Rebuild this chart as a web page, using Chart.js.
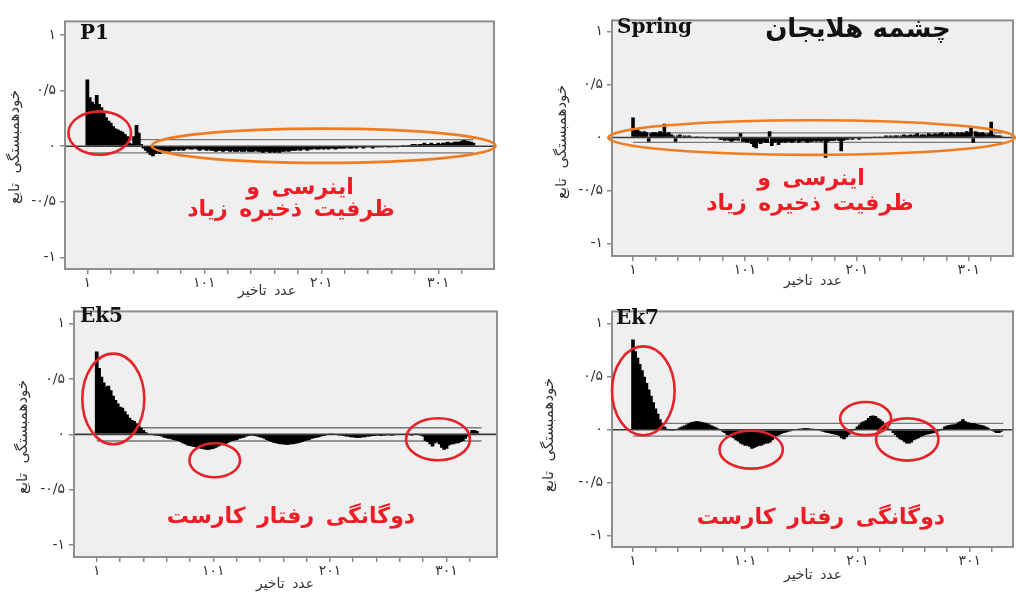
<!DOCTYPE html>
<html><head><meta charset="utf-8">
<script src="https://cdn.jsdelivr.net/npm/chart.js@4"></script>
<style>
html,body{margin:0;padding:0;width:1016px;height:592px;overflow:hidden;background:#fff}
body{position:relative;font-family:"DejaVu Sans",sans-serif}
canvas{position:absolute}
.t{position:absolute;white-space:nowrap;transform:translate(-50%,-50%);line-height:1}
.lbl{position:absolute;white-space:nowrap;font-family:"DejaVu Serif",serif;font-weight:bold;font-size:20px;color:#111;line-height:1;transform:translateY(-50%)}
.red{color:#ee1d25;font-weight:bold;font-size:22px;word-spacing:4px;direction:rtl}
.ytl{font-size:15px;word-spacing:5px;color:#333;transform:translate(-50%,-50%) rotate(-90deg);direction:ltr}
.ytl span{unicode-bidi:isolate}
.xtl{font-size:14px;color:#333;direction:rtl;word-spacing:3px}
.head{font-weight:bold;font-size:26px;color:#111;direction:rtl}
</style></head><body>
<canvas id="c1"></canvas><canvas id="c2"></canvas><canvas id="c3"></canvas><canvas id="c4"></canvas>

<div class="lbl" style="left:80px;top:32px">P1</div>
<div class="t red" style="left:300px;top:187px">اینرسی و</div>
<div class="t red" style="left:291px;top:209px">ظرفیت ذخیره زیاد</div>
<div class="t ytl" style="left:14px;top:147px"><span>تابع</span> <span>خودهمبستگی</span></div>
<div class="t xtl" style="left:267px;top:290px">عدد تاخیر</div>

<div class="lbl" style="left:617px;top:26px">Spring</div>
<div class="t head" style="left:858px;top:28px">چشمه هلایجان</div>
<div class="t red" style="left:811px;top:178px">اینرسی و</div>
<div class="t red" style="left:810px;top:203px">ظرفیت ذخیره زیاد</div>
<div class="t ytl" style="left:561px;top:142px"><span>تابع</span> <span>خودهمبستگی</span></div>
<div class="t xtl" style="left:813px;top:280px">عدد تاخیر</div>

<div class="lbl" style="left:80px;top:315px">Ek5</div>
<div class="t red" style="left:291px;top:516px">دوگانگی رفتار کارست</div>
<div class="t ytl" style="left:22px;top:437px"><span>تابع</span> <span>خودهمبستگی</span></div>
<div class="t xtl" style="left:285px;top:583px">عدد تاخیر</div>

<div class="lbl" style="left:616px;top:317px">Ek7</div>
<div class="t red" style="left:821px;top:517px">دوگانگی رفتار کارست</div>
<div class="t ytl" style="left:548px;top:435px"><span>تابع</span> <span>خودهمبستگی</span></div>
<div class="t xtl" style="left:813px;top:574px">عدد تاخیر</div>

<script>
// ---- data: autocorrelation values at lags 1,3,5,...,331 ----
const firstLag = 1;
const lagStep = 2;
const xTickLags = [1,21,41,61,81,101,121,141,161,181,201,221,241,261,281,301,321];
const xTickLabels = {1:'۱',101:'۱۰۱',201:'۲۰۱',301:'۳۰۱'};
const yTickValues = [1,0.5,0,-0.5,-1];
const yTickLabels = ['۱','۰/۵','۰','-۰/۵','-۱'];

const acfP1 = [
 0.60,0.44,0.40,0.38,0.46,0.38,0.35,0.30,0.26,0.23,
 0.21,0.18,0.16,0.15,0.14,0.13,0.11,0.09,0.03,0.02,
 0.09,0.19,0.12,0.02,-0.02,-0.04,-0.06,-0.08,-0.09,-0.07,
 -0.06,-0.07,-0.05,-0.06,-0.04,-0.05,-0.04,-0.04,-0.03,-0.04,
 -0.03,-0.04,-0.03,-0.02,-0.03,-0.03,-0.02,-0.03,-0.04,-0.03,
 -0.03,-0.04,-0.03,-0.04,-0.04,-0.05,-0.04,-0.04,-0.05,-0.04,
 -0.04,-0.05,-0.04,-0.05,-0.05,-0.04,-0.05,-0.05,-0.04,-0.05,
 -0.05,-0.05,-0.04,-0.05,-0.05,-0.06,-0.05,-0.05,-0.06,-0.05,
 -0.06,-0.05,-0.06,-0.05,-0.05,-0.04,-0.05,-0.04,-0.04,-0.04,
 -0.03,-0.04,-0.03,-0.03,-0.04,-0.03,-0.03,-0.02,-0.03,-0.03,
 -0.02,-0.03,-0.02,-0.03,-0.02,-0.02,-0.03,-0.02,-0.02,-0.02,
 -0.02,-0.01,-0.02,-0.02,-0.01,-0.02,-0.01,-0.01,-0.02,-0.01,
 -0.01,-0.01,-0.02,-0.01,-0.01,-0.01,-0.01,0.00,-0.01,-0.01,
 -0.01,0.00,-0.01,0.00,0.00,0.01,0.00,0.01,0.01,0.02,
 0.02,0.01,0.02,0.02,0.03,0.02,0.02,0.03,0.02,0.02,
 0.03,0.02,0.03,0.03,0.04,0.03,0.03,0.04,0.04,0.04,
 0.05,0.055,0.05,0.045,0.04,0.03
];
const acfSpring = [
 0.19,0.09,0.08,0.06,0.05,0.06,0.05,-0.04,0.04,0.05,
 0.05,0.04,0.06,0.05,0.13,0.04,0.05,0.03,0.02,-0.04,
 0.02,0.03,0.01,0.02,0.01,0.02,0.01,0.00,0.01,0.01,
 0.00,0.01,0.00,-0.01,0.00,0.00,-0.01,0.00,-0.01,-0.02,
 -0.02,-0.03,-0.02,-0.03,-0.04,-0.03,-0.02,-0.03,0.04,-0.04,
 -0.04,-0.05,-0.04,-0.06,-0.09,-0.10,-0.05,-0.06,-0.04,-0.05,
 -0.05,0.06,-0.08,-0.05,-0.04,-0.07,-0.05,-0.04,-0.05,-0.04,
 -0.04,-0.05,-0.04,-0.03,-0.05,-0.04,-0.03,-0.04,-0.05,-0.04,
 -0.04,-0.03,-0.04,-0.03,-0.04,-0.03,-0.19,-0.04,-0.03,-0.03,
 -0.03,-0.02,-0.03,-0.13,-0.03,-0.02,-0.02,-0.01,-0.02,-0.01,
 -0.01,-0.02,-0.01,0.00,-0.01,0.00,-0.01,0.00,0.01,0.00,
 0.01,0.00,0.01,0.02,0.01,0.02,0.01,0.02,0.02,0.01,
 0.02,0.03,0.02,0.02,0.03,0.02,0.03,0.04,0.02,0.03,
 0.03,0.02,0.04,0.03,0.03,0.04,0.03,0.04,0.05,0.03,
 0.04,0.03,0.05,0.04,0.03,0.05,0.04,0.05,0.04,0.06,
 0.05,0.10,-0.05,0.06,0.05,0.04,0.05,0.04,0.03,0.04,
 0.15,0.03,0.02,0.02,0.02,0.01
];
const acfEk5 = [
 0.75,0.60,0.52,0.47,0.43,0.44,0.40,0.35,0.31,0.28,
 0.25,0.24,0.21,0.18,0.15,0.13,0.12,0.10,0.08,0.06,
 0.04,0.02,0.01,0.00,-0.005,-0.01,-0.01,-0.015,-0.02,-0.03,
 -0.035,-0.04,-0.045,-0.05,-0.055,-0.06,-0.07,-0.08,-0.09,-0.10,
 -0.105,-0.11,-0.115,-0.12,-0.125,-0.13,-0.135,-0.14,-0.14,-0.135,
 -0.13,-0.12,-0.11,-0.10,-0.095,-0.09,-0.08,-0.07,-0.06,-0.055,
 -0.05,-0.04,-0.035,-0.03,-0.02,-0.015,-0.01,-0.01,-0.015,-0.02,
 -0.025,-0.03,-0.04,-0.05,-0.06,-0.07,-0.075,-0.08,-0.085,-0.09,
 -0.09,-0.095,-0.095,-0.09,-0.09,-0.085,-0.08,-0.075,-0.07,-0.06,
 -0.055,-0.05,-0.04,-0.035,-0.03,-0.025,-0.02,-0.015,-0.01,0.00,
 0.01,0.005,0.00,-0.005,-0.01,-0.01,-0.015,-0.02,-0.02,-0.025,
 -0.025,-0.03,-0.03,-0.03,-0.025,-0.025,-0.02,-0.02,-0.015,-0.015,
 -0.01,-0.01,-0.015,-0.01,-0.01,-0.005,-0.01,-0.01,-0.005,0.00,
 0.00,-0.005,0.00,0.005,0.00,-0.01,0.00,0.01,-0.005,-0.01,
 -0.02,-0.06,-0.07,-0.09,-0.11,-0.08,-0.07,-0.09,-0.12,-0.14,
 -0.13,-0.10,-0.09,-0.09,-0.08,-0.08,-0.07,-0.06,-0.04,-0.02,
 0.01,0.04,0.04,0.03,0.01,0.00
];
const acfEk7 = [
 0.85,0.74,0.68,0.62,0.56,0.50,0.44,0.38,0.32,0.26,
 0.20,0.15,0.10,0.06,0.03,0.01,-0.01,-0.01,-0.005,0.00,
 0.01,0.02,0.03,0.04,0.05,0.06,0.07,0.075,0.08,0.08,
 0.075,0.07,0.065,0.06,0.05,0.04,0.03,0.02,0.01,0.00,
 -0.02,-0.03,-0.05,-0.06,-0.07,-0.08,-0.10,-0.11,-0.13,-0.14,
 -0.15,-0.15,-0.16,-0.18,-0.17,-0.16,-0.15,-0.15,-0.14,-0.13,
 -0.13,-0.12,-0.10,-0.08,-0.06,-0.05,-0.04,-0.03,-0.025,-0.02,
 -0.015,-0.01,0.00,0.005,0.01,0.01,0.015,0.015,0.015,0.01,
 0.01,0.005,0.00,-0.01,-0.015,-0.02,-0.025,-0.03,-0.035,-0.04,
 -0.045,-0.05,-0.06,-0.08,-0.09,-0.07,-0.05,-0.03,-0.01,0.01,
 0.03,0.05,0.07,0.08,0.09,0.11,0.13,0.135,0.13,0.11,
 0.10,0.08,0.06,0.03,0.01,-0.01,-0.03,-0.05,-0.07,-0.09,
 -0.10,-0.115,-0.13,-0.13,-0.12,-0.10,-0.09,-0.08,-0.07,-0.06,
 -0.05,-0.045,-0.04,-0.035,-0.03,-0.02,-0.015,-0.005,0.01,0.03,
 0.04,0.045,0.05,0.05,0.055,0.07,0.08,0.10,0.08,0.07,
 0.065,0.06,0.06,0.055,0.05,0.045,0.04,0.03,0.02,0.005,
 -0.01,-0.02,-0.03,-0.03,-0.02,-0.01
];
// confidence bounds (±)
const bandP1 = 0.06, bandSpring = 0.045, bandEk5 = 0.06, bandEk7 = 0.06;

// annotation ellipses in data units (lag, value)
const RED = '#e4232a', ORANGE = '#f07c22';
const ellP1 = [
 {lag:11.6, val:0.118, rLag:26.8, rVal:0.195, color:RED},
 {lag:203, val:0.004, rLag:147, rVal:0.154, color:ORANGE}
];
const ellSpring = [{lag:160.6, val:0.0, rLag:181.7, rVal:0.164, color:ORANGE}];
const ellEk5 = [
 {lag:15.2, val:0.32, rLag:26.6, rVal:0.41, color:RED},
 {lag:102.2, val:-0.234, rLag:21.7, rVal:0.154, color:RED},
 {lag:293.7, val:-0.044, rLag:27.4, rVal:0.19, color:RED}
];
const ellEk7 = [
 {lag:10.2, val:0.367, rLag:27.9, rVal:0.419, color:RED},
 {lag:106.3, val:-0.188, rLag:28.2, rVal:0.179, color:RED},
 {lag:208.3, val:0.105, rLag:22.7, rVal:0.156, color:RED},
 {lag:245.4, val:-0.092, rLag:27.8, rVal:0.199, color:RED}
];

// ---- layout ----
const YW = 66, PT = 6, PR = 3, XH = 30;
const panels = [
 {id:'c1', box:[65,15,494,269], x:[-18.1,348.6], y:[-1.105,1.123], data:acfP1, band:bandP1, ell:ellP1},
 {id:'c2', box:[612,14,1013,256], x:[-17.8,340.5], y:[-1.12,1.108], data:acfSpring, band:bandSpring, ell:ellSpring},
 {id:'c3', box:[74,305,497,557], x:[-18.5,344.3], y:[-1.109,1.112], data:acfEk5, band:bandEk5, ell:ellEk5},
 {id:'c4', box:[612,305,1013,547], x:[-17.7,339.6], y:[-1.106,1.116], data:acfEk7, band:bandEk7, ell:ellEk7}
];

const panelPlugin = {
 id:'panel',
 beforeDraw(chart){
  const a=chart.chartArea, c=chart.ctx;
  c.save(); c.fillStyle='#efefef'; c.fillRect(a.left,a.top,a.width,a.height); c.restore();
 },
 afterDraw(chart, args, opts){
  const a=chart.chartArea, c=chart.ctx, xs=chart.scales.x, ys=chart.scales.y;
  c.save();
  c.strokeStyle='#8e8e8e'; c.lineWidth=2; c.strokeRect(a.left,a.top,a.width,a.height);
  (opts.ellipses||[]).forEach(e=>{
   const cx=xs.getPixelForValue(e.lag), cy=ys.getPixelForValue(e.val);
   const rx=Math.abs(xs.getPixelForValue(e.lag+e.rLag)-cx), ry=Math.abs(ys.getPixelForValue(e.val+e.rVal)-cy);
   c.beginPath(); c.ellipse(cx,cy,rx,ry,0,0,Math.PI*2);
   c.strokeStyle=e.color; c.lineWidth=2.6; c.stroke();
  });
  c.restore();
 }
};

function makeChart(p){
 const W=(p.box[2]-p.box[0])+YW+PR, H=(p.box[3]-p.box[1])+PT+XH;
 const cv=document.getElementById(p.id);
 cv.width=W; cv.height=H;
 cv.style.left=(p.box[0]-YW)+'px'; cv.style.top=(p.box[1]-PT)+'px';
 cv.style.width=W+'px'; cv.style.height=H+'px';
 const bars=p.data.map((v,i)=>({x:firstLag+lagStep*i, y:v}));
 const lastLag=firstLag+lagStep*(p.data.length-1);
 const lineDs=(pts,col,w,ord)=>({type:'line',data:pts,borderColor:col,borderWidth:w,pointRadius:0,fill:false,order:ord,tension:0});
 new Chart(cv,{
  type:'bar',
  data:{datasets:[
   {type:'bar',data:bars,backgroundColor:'#000',borderColor:'#000',borderWidth:0,barPercentage:1.6,categoryPercentage:1,order:1},
   lineDs([{x:firstLag,y:p.band},{x:lastLag,y:p.band}],'#777',1.3,2),
   lineDs([{x:firstLag,y:-p.band},{x:lastLag,y:-p.band}],'#777',1.3,2),
   lineDs([{x:p.x[0],y:0},{x:p.x[1],y:0}],'#3c3c3c',1.6,0)
  ]},
  options:{
   responsive:false, animation:false, events:[],
   layout:{padding:{left:0,top:PT,right:PR,bottom:0}},
   plugins:{legend:{display:false},tooltip:{enabled:false},panel:{ellipses:p.ell}},
   scales:{
    x:{type:'linear',min:p.x[0],max:p.x[1],offset:false,
     afterFit(s){s.height=XH;},
     afterBuildTicks(s){s.ticks=xTickLags.map(v=>({value:v}));},
     ticks:{autoSkip:false,maxRotation:0,minRotation:0,padding:1,color:'#333',font:{family:'DejaVu Sans',size:14},
      callback:(v)=>xTickLabels[v]||''},
     grid:{drawOnChartArea:false,drawTicks:true,tickLength:5,color:'#8a8a8a',lineWidth:1.5,offset:false},
     border:{display:false}},
    y:{type:'linear',min:p.y[0],max:p.y[1],
     afterFit(s){s.width=YW;},
     afterBuildTicks(s){s.ticks=yTickValues.map(v=>({value:v}));},
     ticks:{autoSkip:false,padding:4,color:'#333',font:{family:'DejaVu Sans',size:14},
      callback:(v)=>{const i=yTickValues.indexOf(v);return i<0?'':yTickLabels[i];}},
     grid:{drawOnChartArea:false,drawTicks:true,tickLength:5,color:'#8a8a8a',lineWidth:1.5},
     border:{display:false}}
   }
  },
  plugins:[panelPlugin]
 });
}
panels.forEach(makeChart);
</script>
</body></html>
